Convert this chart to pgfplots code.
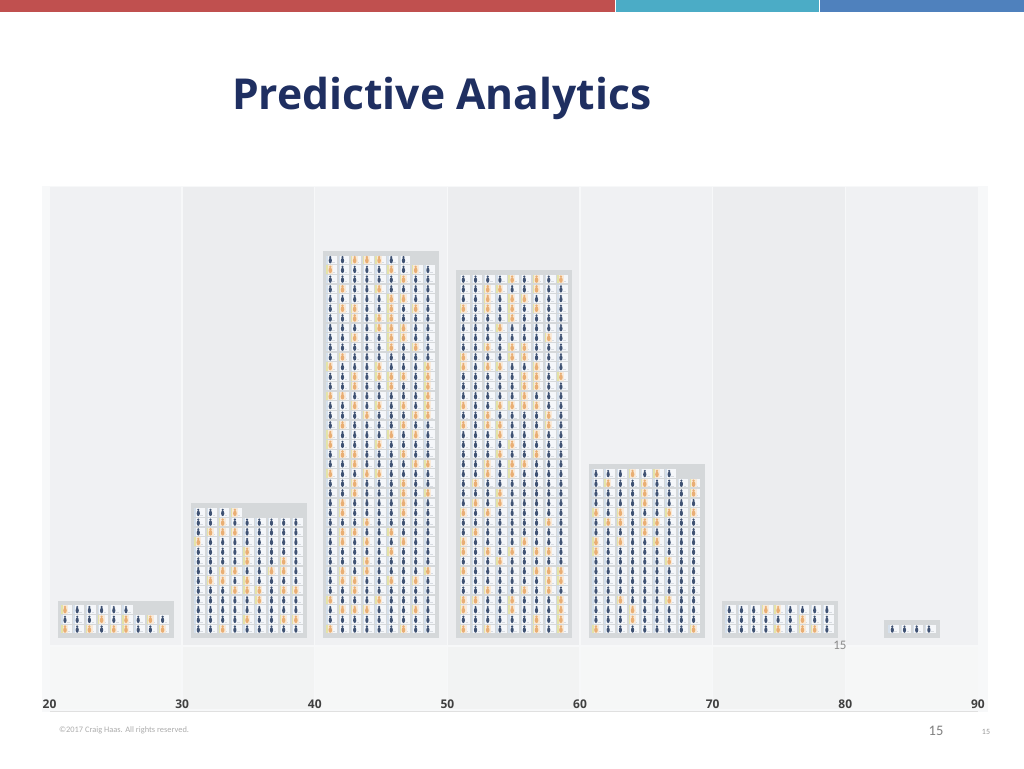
\documentclass[border=0pt]{standalone}
\usepackage{pgfplots}
\pgfplotsset{compat=1.18}
\usepackage{fontspec}
\setmainfont{Open Sans}
\newfontfamily\carl{Carlito}
\definecolor{navy}{HTML}{1F2F61}
\definecolor{figd}{HTML}{3F5273}
\definecolor{figo}{HTML}{E9AE74}
\definecolor{halo}{HTML}{F9EAD9}
\definecolor{card}{HTML}{F5F7FA}
\definecolor{stripe}{HTML}{D5E0EC}
\definecolor{ystripe}{HTML}{E3E3A8}
\definecolor{smudge}{HTML}{D8DCE2}
\definecolor{boxg}{HTML}{D5D8DA}
\definecolor{colA}{HTML}{F0F1F3}
\definecolor{colB}{HTML}{ECEDEF}
\definecolor{lowA}{HTML}{F6F7F7}
\definecolor{lowB}{HTML}{F2F3F3}
\definecolor{outer}{HTML}{F7F8F9}
\definecolor{topred}{HTML}{C0504F}
\definecolor{topteal}{HTML}{4BACC6}
\definecolor{topblue}{HTML}{4F81BD}
\pgfdeclareplotmark{cellD}{%
 \pgfsetfillcolor{card}\pgfpathrectangle{\pgfpoint{-3.8pt}{-4.2pt}}{\pgfpoint{10.6pt}{8.4pt}}\pgfusepathqfill
 \pgfsetfillcolor{stripe}\pgfpathrectangle{\pgfpoint{-3.8pt}{-4.2pt}}{\pgfpoint{1.4pt}{8.4pt}}\pgfusepathqfill
 \pgfsetfillcolor{smudge}\pgfpathrectangle{\pgfpoint{2.2pt}{-3.2pt}}{\pgfpoint{2.6pt}{0.9pt}}\pgfusepathqfill
 \pgfsetfillcolor{figd}\pgfpathcircle{\pgfpoint{0pt}{2.6pt}}{1.2pt}\pgfusepathqfill
 \pgfpathellipse{\pgfpoint{0pt}{-0.9pt}}{\pgfpoint{1.6pt}{0pt}}{\pgfpoint{0pt}{2.8pt}}\pgfusepathqfill}
\pgfdeclareplotmark{cellO}{%
 \pgfsetfillcolor{halo}\pgfpathrectangle{\pgfpoint{-3pt}{-4.2pt}}{\pgfpoint{6.2pt}{8.4pt}}\pgfusepathqfill
 \pgfsetfillcolor{ystripe}\pgfpathrectangle{\pgfpoint{-3.8pt}{-4.2pt}}{\pgfpoint{1.4pt}{8.4pt}}\pgfusepathqfill
 \pgfsetfillcolor{figo}\pgfpathcircle{\pgfpoint{0pt}{2.6pt}}{1.3pt}\pgfusepathqfill
 \pgfpathellipse{\pgfpoint{0pt}{-0.9pt}}{\pgfpoint{1.8pt}{0pt}}{\pgfpoint{0pt}{2.8pt}}\pgfusepathqfill}
\pgfplotsset{
 bin/.style={x filter/.expression={x*0.9198+#1}},
 cells/.style={only marks,mark=cellD},
 orng/.style={only marks,mark=cellO},
 pane/.style={fill=#1,draw=none,forget plot}}
\begin{document}
\begin{tikzpicture}
\begin{axis}[
 scale only axis,width=1024pt,height=768pt,
 xmin=16.268,xmax=93.47,ymin=-13.30,ymax=65.71,
 axis on top,
 axis line style={draw=none},major tick length=0pt,
 xtick={20,30,40,50,60,70,80,90},ytick=\empty,
 /pgf/number format/assume math mode=true,
 xticklabel style={anchor=center,yshift=64pt,font=\fontsize{12}{14}\selectfont\bfseries,text=black!75},
 clip=false]
% stripes
\addplot[pane=white] coordinates {(16.268,-13.30)(93.47,-13.30)(93.47,65.71)(16.268,65.71)} --cycle;
\addplot[pane=topred] coordinates {(16.268,65.71)(62.6,65.71)(62.6,64.48)(16.268,64.48)} --cycle;
\addplot[pane=topteal] coordinates {(62.7,65.71)(78.0,65.71)(78.0,64.48)(62.7,64.48)} --cycle;
\addplot[pane=topblue] coordinates {(78.1,65.71)(93.47,65.71)(93.47,64.48)(78.1,64.48)} --cycle;
% panels
\addplot[pane=outer] coordinates {(19.43,-7.54)(90.75,-7.54)(90.75,46.58)(19.43,46.58)} --cycle;
\addplot[pane=colA] coordinates {(20.05,-0.65)(29.95,-0.65)(29.95,46.47)(20.05,46.47)} --cycle;
\addplot[pane=colB] coordinates {(30.05,-0.65)(39.95,-0.65)(39.95,46.47)(30.05,46.47)} --cycle;
\addplot[pane=colA] coordinates {(40.05,-0.65)(49.95,-0.65)(49.95,46.47)(40.05,46.47)} --cycle;
\addplot[pane=colB] coordinates {(50.05,-0.65)(59.95,-0.65)(59.95,46.47)(50.05,46.47)} --cycle;
\addplot[pane=colA] coordinates {(60.05,-0.65)(69.95,-0.65)(69.95,46.47)(60.05,46.47)} --cycle;
\addplot[pane=colB] coordinates {(70.05,-0.65)(79.95,-0.65)(79.95,46.47)(70.05,46.47)} --cycle;
\addplot[pane=colA] coordinates {(80.05,-0.65)(90,-0.65)(90,46.47)(80.05,46.47)} --cycle;
\addplot[pane=lowA] coordinates {(20.05,-7.2)(29.95,-7.2)(29.95,-0.85)(20.05,-0.85)} --cycle;
\addplot[pane=lowB] coordinates {(30.05,-7.2)(39.95,-7.2)(39.95,-0.85)(30.05,-0.85)} --cycle;
\addplot[pane=lowA] coordinates {(40.05,-7.2)(49.95,-7.2)(49.95,-0.85)(40.05,-0.85)} --cycle;
\addplot[pane=lowB] coordinates {(50.05,-7.2)(59.95,-7.2)(59.95,-0.85)(50.05,-0.85)} --cycle;
\addplot[pane=lowA] coordinates {(60.05,-7.2)(69.95,-7.2)(69.95,-0.85)(60.05,-0.85)} --cycle;
\addplot[pane=lowB] coordinates {(70.05,-7.2)(79.95,-7.2)(79.95,-0.85)(70.05,-0.85)} --cycle;
\addplot[pane=lowA] coordinates {(80.05,-7.2)(90,-7.2)(90,-0.85)(80.05,-0.85)} --cycle;
\addplot[pane=black!12] coordinates {(20,-7.5)(90,-7.5)(90,-7.38)(20,-7.38)} --cycle;
% grey histogram boxes
\addplot[pane=boxg] coordinates {(20.64,0.13)(29.39,0.13)(29.39,3.9)(20.64,3.9)} --cycle;
\addplot[pane=boxg] coordinates {(30.65,0.13)(39.39,0.13)(39.39,13.95)(30.65,13.95)} --cycle;
\addplot[pane=boxg] coordinates {(40.62,0.13)(49.37,0.13)(49.37,39.9)(40.62,39.9)} --cycle;
\addplot[pane=boxg] coordinates {(50.65,0.13)(59.39,0.13)(59.39,37.9)(50.65,37.9)} --cycle;
\addplot[pane=boxg] coordinates {(60.68,0.13)(69.42,0.13)(69.42,17.95)(60.68,17.95)} --cycle;
\addplot[pane=boxg] coordinates {(70.70,0.13)(79.45,0.13)(79.45,3.9)(70.70,3.9)} --cycle;
\addplot[pane=boxg] coordinates {(82.92,0.13)(87.14,0.13)(87.14,1.93)(82.92,1.93)} --cycle;
% bin 20-30
\addplot[cells,bin=20.249] coordinates {(1,1)(2,1)(3,1)(4,1)(5,1)(6,1)(7,1)(8,1)(9,1)
(1,2)(2,2)(3,2)(4,2)(5,2)(6,2)(7,2)(8,2)(9,2)
(1,3)(2,3)(3,3)(4,3)(5,3)(6,3)};
\addplot[orng,bin=20.249] coordinates {(1,3)(4,2)(6,2)(8,2)(1,1)(3,1)(5,1)(6,1)(9,1)};
% bin 30-40
\addplot[cells,bin=30.298] coordinates {(1,1)(2,1)(3,1)(4,1)(5,1)(6,1)(7,1)(8,1)(9,1)
(1,2)(2,2)(3,2)(4,2)(5,2)(6,2)(7,2)(8,2)(9,2)
(1,3)(2,3)(3,3)(4,3)(5,3)(6,3)(7,3)(8,3)(9,3)
(1,4)(2,4)(3,4)(4,4)(5,4)(6,4)(7,4)(8,4)(9,4)
(1,5)(2,5)(3,5)(4,5)(5,5)(6,5)(7,5)(8,5)(9,5)
(1,6)(2,6)(3,6)(4,6)(5,6)(6,6)(7,6)(8,6)(9,6)
(1,7)(2,7)(3,7)(4,7)(5,7)(6,7)(7,7)(8,7)(9,7)
(1,8)(2,8)(3,8)(4,8)(5,8)(6,8)(7,8)(8,8)(9,8)
(1,9)(2,9)(3,9)(4,9)(5,9)(6,9)(7,9)(8,9)(9,9)
(1,10)(2,10)(3,10)(4,10)(5,10)(6,10)(7,10)(8,10)(9,10)
(1,11)(2,11)(3,11)(4,11)(5,11)(6,11)(7,11)(8,11)(9,11)
(1,12)(2,12)(3,12)(4,12)(5,12)(6,12)(7,12)(8,12)(9,12)
(1,13)(2,13)(3,13)(4,13)};
\addplot[orng,bin=30.298] coordinates {(4,13)(3,12)(2,11)(3,11)(4,11)(1,10)(5,9)(5,8)(8,8)(3,7)(4,7)(7,7)(8,7)(2,6)(3,6)(5,6)(4,5)(5,5)(6,5)(8,5)(9,5)(6,4)(5,2)(8,2)(9,2)(3,1)};
% bin 40-50
\addplot[cells,bin=40.250] coordinates {(1,1)(2,1)(3,1)(4,1)(5,1)(6,1)(7,1)(8,1)(9,1)
(1,2)(2,2)(3,2)(4,2)(5,2)(6,2)(7,2)(8,2)(9,2)
(1,3)(2,3)(3,3)(4,3)(5,3)(6,3)(7,3)(8,3)(9,3)
(1,4)(2,4)(3,4)(4,4)(5,4)(6,4)(7,4)(8,4)(9,4)
(1,5)(2,5)(3,5)(4,5)(5,5)(6,5)(7,5)(8,5)(9,5)
(1,6)(2,6)(3,6)(4,6)(5,6)(6,6)(7,6)(8,6)(9,6)
(1,7)(2,7)(3,7)(4,7)(5,7)(6,7)(7,7)(8,7)(9,7)
(1,8)(2,8)(3,8)(4,8)(5,8)(6,8)(7,8)(8,8)(9,8)
(1,9)(2,9)(3,9)(4,9)(5,9)(6,9)(7,9)(8,9)(9,9)
(1,10)(2,10)(3,10)(4,10)(5,10)(6,10)(7,10)(8,10)(9,10)
(1,11)(2,11)(3,11)(4,11)(5,11)(6,11)(7,11)(8,11)(9,11)
(1,12)(2,12)(3,12)(4,12)(5,12)(6,12)(7,12)(8,12)(9,12)
(1,13)(2,13)(3,13)(4,13)(5,13)(6,13)(7,13)(8,13)(9,13)
(1,14)(2,14)(3,14)(4,14)(5,14)(6,14)(7,14)(8,14)(9,14)
(1,15)(2,15)(3,15)(4,15)(5,15)(6,15)(7,15)(8,15)(9,15)
(1,16)(2,16)(3,16)(4,16)(5,16)(6,16)(7,16)(8,16)(9,16)
(1,17)(2,17)(3,17)(4,17)(5,17)(6,17)(7,17)(8,17)(9,17)
(1,18)(2,18)(3,18)(4,18)(5,18)(6,18)(7,18)(8,18)(9,18)
(1,19)(2,19)(3,19)(4,19)(5,19)(6,19)(7,19)(8,19)(9,19)
(1,20)(2,20)(3,20)(4,20)(5,20)(6,20)(7,20)(8,20)(9,20)
(1,21)(2,21)(3,21)(4,21)(5,21)(6,21)(7,21)(8,21)(9,21)
(1,22)(2,22)(3,22)(4,22)(5,22)(6,22)(7,22)(8,22)(9,22)
(1,23)(2,23)(3,23)(4,23)(5,23)(6,23)(7,23)(8,23)(9,23)
(1,24)(2,24)(3,24)(4,24)(5,24)(6,24)(7,24)(8,24)(9,24)
(1,25)(2,25)(3,25)(4,25)(5,25)(6,25)(7,25)(8,25)(9,25)
(1,26)(2,26)(3,26)(4,26)(5,26)(6,26)(7,26)(8,26)(9,26)
(1,27)(2,27)(3,27)(4,27)(5,27)(6,27)(7,27)(8,27)(9,27)
(1,28)(2,28)(3,28)(4,28)(5,28)(6,28)(7,28)(8,28)(9,28)
(1,29)(2,29)(3,29)(4,29)(5,29)(6,29)(7,29)(8,29)(9,29)
(1,30)(2,30)(3,30)(4,30)(5,30)(6,30)(7,30)(8,30)(9,30)
(1,31)(2,31)(3,31)(4,31)(5,31)(6,31)(7,31)(8,31)(9,31)
(1,32)(2,32)(3,32)(4,32)(5,32)(6,32)(7,32)(8,32)(9,32)
(1,33)(2,33)(3,33)(4,33)(5,33)(6,33)(7,33)(8,33)(9,33)
(1,34)(2,34)(3,34)(4,34)(5,34)(6,34)(7,34)(8,34)(9,34)
(1,35)(2,35)(3,35)(4,35)(5,35)(6,35)(7,35)(8,35)(9,35)
(1,36)(2,36)(3,36)(4,36)(5,36)(6,36)(7,36)(8,36)(9,36)
(1,37)(2,37)(3,37)(4,37)(5,37)(6,37)(7,37)(8,37)(9,37)
(1,38)(2,38)(3,38)(4,38)(5,38)(6,38)(7,38)(8,38)(9,38)
(1,39)(2,39)(3,39)(4,39)(5,39)(6,39)(7,39)};
\addplot[orng,bin=40.250] coordinates {(3,39)(4,39)(5,39)(1,38)(6,38)(8,38)(7,37)(2,36)(5,36)(6,35)(7,35)
(2,34)(3,34)(6,34)(8,34)(3,33)(5,33)(6,33)(5,32)(6,32)(7,32)(3,31)(6,31)(7,31)(6,30)(8,30)(2,29)
(1,28)(5,28)(9,28)(3,27)(5,27)(6,27)(7,27)(9,27)(3,26)(6,26)(9,26)(1,25)(2,25)(9,25)
(3,24)(5,24)(7,24)(9,24)(4,23)(8,23)(9,23)(2,22)(7,22)(1,21)(6,21)(8,21)(1,20)(5,20)
(2,19)(3,19)(7,19)(3,18)(8,18)(9,18)(1,17)(4,17)(5,17)(3,16)(7,16)(3,15)(7,15)(9,15)
(2,14)(7,14)(2,13)(7,13)(4,12)(2,11)(3,11)(6,11)(2,10)(4,10)(7,10)(6,9)(4,8)(2,7)(4,7)(9,7)
(2,6)(3,6)(6,6)(8,6)(3,5)(1,4)(5,4)(2,3)(3,3)(4,3)(8,3)(1,1)(7,1)};
% bin 50-60
\addplot[cells,bin=50.280] coordinates {(1,1)(2,1)(3,1)(4,1)(5,1)(6,1)(7,1)(8,1)(9,1)
(1,2)(2,2)(3,2)(4,2)(5,2)(6,2)(7,2)(8,2)(9,2)
(1,3)(2,3)(3,3)(4,3)(5,3)(6,3)(7,3)(8,3)(9,3)
(1,4)(2,4)(3,4)(4,4)(5,4)(6,4)(7,4)(8,4)(9,4)
(1,5)(2,5)(3,5)(4,5)(5,5)(6,5)(7,5)(8,5)(9,5)
(1,6)(2,6)(3,6)(4,6)(5,6)(6,6)(7,6)(8,6)(9,6)
(1,7)(2,7)(3,7)(4,7)(5,7)(6,7)(7,7)(8,7)(9,7)
(1,8)(2,8)(3,8)(4,8)(5,8)(6,8)(7,8)(8,8)(9,8)
(1,9)(2,9)(3,9)(4,9)(5,9)(6,9)(7,9)(8,9)(9,9)
(1,10)(2,10)(3,10)(4,10)(5,10)(6,10)(7,10)(8,10)(9,10)
(1,11)(2,11)(3,11)(4,11)(5,11)(6,11)(7,11)(8,11)(9,11)
(1,12)(2,12)(3,12)(4,12)(5,12)(6,12)(7,12)(8,12)(9,12)
(1,13)(2,13)(3,13)(4,13)(5,13)(6,13)(7,13)(8,13)(9,13)
(1,14)(2,14)(3,14)(4,14)(5,14)(6,14)(7,14)(8,14)(9,14)
(1,15)(2,15)(3,15)(4,15)(5,15)(6,15)(7,15)(8,15)(9,15)
(1,16)(2,16)(3,16)(4,16)(5,16)(6,16)(7,16)(8,16)(9,16)
(1,17)(2,17)(3,17)(4,17)(5,17)(6,17)(7,17)(8,17)(9,17)
(1,18)(2,18)(3,18)(4,18)(5,18)(6,18)(7,18)(8,18)(9,18)
(1,19)(2,19)(3,19)(4,19)(5,19)(6,19)(7,19)(8,19)(9,19)
(1,20)(2,20)(3,20)(4,20)(5,20)(6,20)(7,20)(8,20)(9,20)
(1,21)(2,21)(3,21)(4,21)(5,21)(6,21)(7,21)(8,21)(9,21)
(1,22)(2,22)(3,22)(4,22)(5,22)(6,22)(7,22)(8,22)(9,22)
(1,23)(2,23)(3,23)(4,23)(5,23)(6,23)(7,23)(8,23)(9,23)
(1,24)(2,24)(3,24)(4,24)(5,24)(6,24)(7,24)(8,24)(9,24)
(1,25)(2,25)(3,25)(4,25)(5,25)(6,25)(7,25)(8,25)(9,25)
(1,26)(2,26)(3,26)(4,26)(5,26)(6,26)(7,26)(8,26)(9,26)
(1,27)(2,27)(3,27)(4,27)(5,27)(6,27)(7,27)(8,27)(9,27)
(1,28)(2,28)(3,28)(4,28)(5,28)(6,28)(7,28)(8,28)(9,28)
(1,29)(2,29)(3,29)(4,29)(5,29)(6,29)(7,29)(8,29)(9,29)
(1,30)(2,30)(3,30)(4,30)(5,30)(6,30)(7,30)(8,30)(9,30)
(1,31)(2,31)(3,31)(4,31)(5,31)(6,31)(7,31)(8,31)(9,31)
(1,32)(2,32)(3,32)(4,32)(5,32)(6,32)(7,32)(8,32)(9,32)
(1,33)(2,33)(3,33)(4,33)(5,33)(6,33)(7,33)(8,33)(9,33)
(1,34)(2,34)(3,34)(4,34)(5,34)(6,34)(7,34)(8,34)(9,34)
(1,35)(2,35)(3,35)(4,35)(5,35)(6,35)(7,35)(8,35)(9,35)
(1,36)(2,36)(3,36)(4,36)(5,36)(6,36)(7,36)(8,36)(9,36)
(1,37)(2,37)(3,37)(4,37)(5,37)(6,37)(7,37)(8,37)(9,37)};
\addplot[orng,bin=50.280] coordinates {(5,37)(7,37)(9,37)(3,36)(4,36)(7,36)(3,35)(5,35)(6,35)(1,34)(3,34)(5,34)(7,34)(5,33)(4,32)(8,31)
(3,30)(5,30)(6,30)(1,29)(5,29)(6,29)(1,28)(3,28)(4,28)(7,28)(6,27)(7,27)(9,27)(6,26)(7,26)(6,25)
(1,24)(4,24)(5,24)(6,24)(7,24)(3,23)(8,23)(1,22)(3,22)(4,22)(8,22)(4,21)(7,21)(5,20)(4,19)(7,19)
(3,18)(5,18)(6,18)(3,17)(5,17)(2,16)(4,15)(2,14)(4,14)(1,13)(3,13)(8,12)(2,11)(1,10)(6,10)
(1,9)(3,9)(5,9)(7,9)(8,9)(4,8)(1,7)(7,7)(8,7)(9,7)(8,6)(9,6)(3,5)(6,5)(8,5)(1,4)(2,4)(5,4)(9,4)
(1,3)(5,3)(9,3)(7,2)(9,2)(1,1)(3,1)(7,1)(9,1)};
% bin 60-70
\addplot[cells,bin=60.280] coordinates {(1,1)(2,1)(3,1)(4,1)(5,1)(6,1)(7,1)(8,1)(9,1)
(1,2)(2,2)(3,2)(4,2)(5,2)(6,2)(7,2)(8,2)(9,2)
(1,3)(2,3)(3,3)(4,3)(5,3)(6,3)(7,3)(8,3)(9,3)
(1,4)(2,4)(3,4)(4,4)(5,4)(6,4)(7,4)(8,4)(9,4)
(1,5)(2,5)(3,5)(4,5)(5,5)(6,5)(7,5)(8,5)(9,5)
(1,6)(2,6)(3,6)(4,6)(5,6)(6,6)(7,6)(8,6)(9,6)
(1,7)(2,7)(3,7)(4,7)(5,7)(6,7)(7,7)(8,7)(9,7)
(1,8)(2,8)(3,8)(4,8)(5,8)(6,8)(7,8)(8,8)(9,8)
(1,9)(2,9)(3,9)(4,9)(5,9)(6,9)(7,9)(8,9)(9,9)
(1,10)(2,10)(3,10)(4,10)(5,10)(6,10)(7,10)(8,10)(9,10)
(1,11)(2,11)(3,11)(4,11)(5,11)(6,11)(7,11)(8,11)(9,11)
(1,12)(2,12)(3,12)(4,12)(5,12)(6,12)(7,12)(8,12)(9,12)
(1,13)(2,13)(3,13)(4,13)(5,13)(6,13)(7,13)(8,13)(9,13)
(1,14)(2,14)(3,14)(4,14)(5,14)(6,14)(7,14)(8,14)(9,14)
(1,15)(2,15)(3,15)(4,15)(5,15)(6,15)(7,15)(8,15)(9,15)
(1,16)(2,16)(3,16)(4,16)(5,16)(6,16)(7,16)(8,16)(9,16)
(1,17)(2,17)(3,17)(4,17)(5,17)(6,17)(7,17)};
\addplot[orng,bin=60.280] coordinates {(4,17)(6,17)(2,16)(5,16)(9,16)(5,15)(9,15)(5,14)(1,13)(3,13)(7,13)(9,13)(2,12)(3,12)(5,12)(6,12)(5,11)(1,10)(3,10)(6,10)(1,9)(7,8)(3,4)(7,4)(4,3)(4,2)(1,1)(9,1)};
% bin 70-80
\addplot[cells,bin=70.330] coordinates {(1,1)(2,1)(3,1)(4,1)(5,1)(6,1)(7,1)(8,1)(9,1)
(1,2)(2,2)(3,2)(4,2)(5,2)(6,2)(7,2)(8,2)(9,2)
(1,3)(2,3)(3,3)(4,3)(5,3)(6,3)(7,3)(8,3)(9,3)};
\addplot[orng,bin=70.330] coordinates {(4,3)(5,3)(7,2)(5,1)(7,1)(8,1)};
% bin 80-90
\addplot[cells,bin=82.62] coordinates {(1,1)(2,1)(3,1)(4,1)};
\node[anchor=west,text=navy,font=\fontsize{42.6}{50}\selectfont\bfseries,inner sep=0pt] at (rel axis cs:0.2265,0.8724) {Predictive Analytics};
\node[text=black!45,font=\carl\fontsize{13}{15}\selectfont,inner sep=0pt] at (rel axis cs:0.8203,0.1602) {15};
\node[text=black!50,font=\carl\fontsize{14.5}{17}\selectfont,inner sep=0pt] at (rel axis cs:0.9141,0.0482) {15};
\node[text=black!40,font=\carl\fontsize{8}{10}\selectfont,inner sep=0pt] at (rel axis cs:0.9629,0.0469) {15};
\node[anchor=west,text=black!32,font=\carl\fontsize{8.4}{10}\selectfont,inner sep=0pt] at (rel axis cs:0.0576,0.0495) {©2017 Craig Haas. All rights reserved.};
\end{axis}
\end{tikzpicture}
\end{document}
